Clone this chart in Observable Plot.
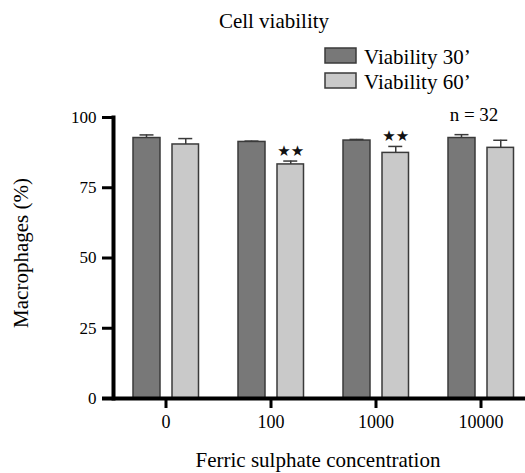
<!DOCTYPE html>
<html>
<head>
<meta charset="utf-8">
<script src="https://cdn.jsdelivr.net/npm/d3@7"></script>
<script src="https://cdn.jsdelivr.net/npm/@observablehq/plot@0.6"></script>
<style>
  html, body { margin: 0; padding: 0; background: white; }
</style>
</head>
<body>
<div id="chart"></div>
<script>
// ---- data ----
const groups = ["0", "100", "1000", "10000"];
const seriesNames = ["Viability 30’", "Viability 60’"];
const v30 = [92.7, 91.3, 91.8, 92.7];
const e30 = [1.1, 0.3, 0.4, 1.2];
const v60 = [90.4, 83.3, 87.4, 89.2];
const e60 = [2.1, 1.2, 2.3, 2.7];
const sig60 = ["", "★★", "★★", ""];
const yTicks = [0, 25, 50, 75, 100];
const titleText = "Cell viability";
const xLabel = "Ferric sulphate concentration";
const yLabel = "Macrophages (%)";
const nNote = "n = 32";

const fills = ["#787878", "#c9c9c9"];
const edge = "#3a3a3a";

const d30 = groups.map((g, i) => ({group: g, series: seriesNames[0], value: v30[i], err: e30[i]}));
const d60 = groups.map((g, i) => ({group: g, series: seriesNames[1], value: v60[i], err: e60[i], sig: sig60[i]}));
const errTop = d => d.value + d.err;

const chart = Plot.plot({
  width: 525,
  height: 473,
  marginTop: 117,
  marginBottom: 75,
  marginLeft: 113,
  marginRight: 0,
  style: {fontFamily: "Liberation Serif", background: "white", color: "black"},
  x: {type: "band", domain: groups, range: [112.5, 532.5], padding: 0},
  y: {domain: [0, 100]},
  color: {domain: seriesNames, range: fills},
  marks: [
    Plot.barY(d30, {x: "group", y: "value", fill: "series", stroke: edge, strokeWidth: 1.5, insetLeft: 20, insetRight: 58}),
    Plot.barY(d60, {x: "group", y: "value", fill: "series", stroke: edge, strokeWidth: 1.5, insetLeft: 59, insetRight: 19.5}),
    Plot.ruleX(d30, {x: "group", y1: "value", y2: errTop, dx: -19.5, stroke: edge, strokeWidth: 1.5}),
    Plot.ruleX(d60, {x: "group", y1: "value", y2: errTop, dx: 19.75, stroke: edge, strokeWidth: 1.5}),
    Plot.tickY(d30, {x: "group", y: errTop, insetLeft: 26.5, insetRight: 64.5, stroke: edge, strokeWidth: 1.5}),
    Plot.tickY(d60, {x: "group", y: errTop, insetLeft: 65.25, insetRight: 25.75, stroke: edge, strokeWidth: 1.5}),
    Plot.text(d60.filter(d => d.sig), {x: "group", y: errTop, text: "sig", dx: 19.75, dy: -10, fontSize: 15, fontFamily: "DejaVu Sans", fill: "#111"}),
    Plot.frame({anchor: "left", strokeWidth: 4, stroke: "black"}),
    Plot.ruleY([0], {strokeWidth: 4, stroke: "black", insetLeft: -11}),
    Plot.axisY({ticks: yTicks, tickSize: 11, tickPadding: 6, strokeWidth: 3, fontSize: 17, label: null}),
    Plot.axisX({tickSize: 10, tickPadding: 7, strokeWidth: 3, fontSize: 18, label: null})
  ]
});

document.getElementById("chart").appendChild(chart);

// ---- title, legend, annotations ----
const svg = d3.select(chart);
const color = chart.scale("color");

svg.append("text")
  .attr("x", 274).attr("y", 28)
  .attr("text-anchor", "middle")
  .attr("font-size", 21)
  .attr("fill", "black")
  .text(titleText);

const legend = svg.append("g");
color.domain.forEach((name, i) => {
  const y0 = 48 + i * 25;
  legend.append("rect")
    .attr("x", 325).attr("y", y0)
    .attr("width", 31).attr("height", 15)
    .attr("fill", color.apply(name))
    .attr("stroke", edge).attr("stroke-width", 1.5);
  legend.append("text")
    .attr("x", 364).attr("y", y0 + 16)
    .attr("text-anchor", "start")
    .attr("font-size", 21)
    .attr("fill", "black")
    .text(name);
});

svg.append("text")
  .attr("x", 474).attr("y", 121)
  .attr("text-anchor", "middle")
  .attr("font-size", 19)
  .attr("fill", "black")
  .text(nNote);

svg.append("text")
  .attr("transform", "translate(28,253) rotate(-90)")
  .attr("text-anchor", "middle")
  .attr("font-size", 21)
  .attr("fill", "black")
  .text(yLabel);

svg.append("text")
  .attr("x", 318).attr("y", 467)
  .attr("text-anchor", "middle")
  .attr("font-size", 21)
  .attr("fill", "black")
  .text(xLabel);
</script>
</body>
</html>
